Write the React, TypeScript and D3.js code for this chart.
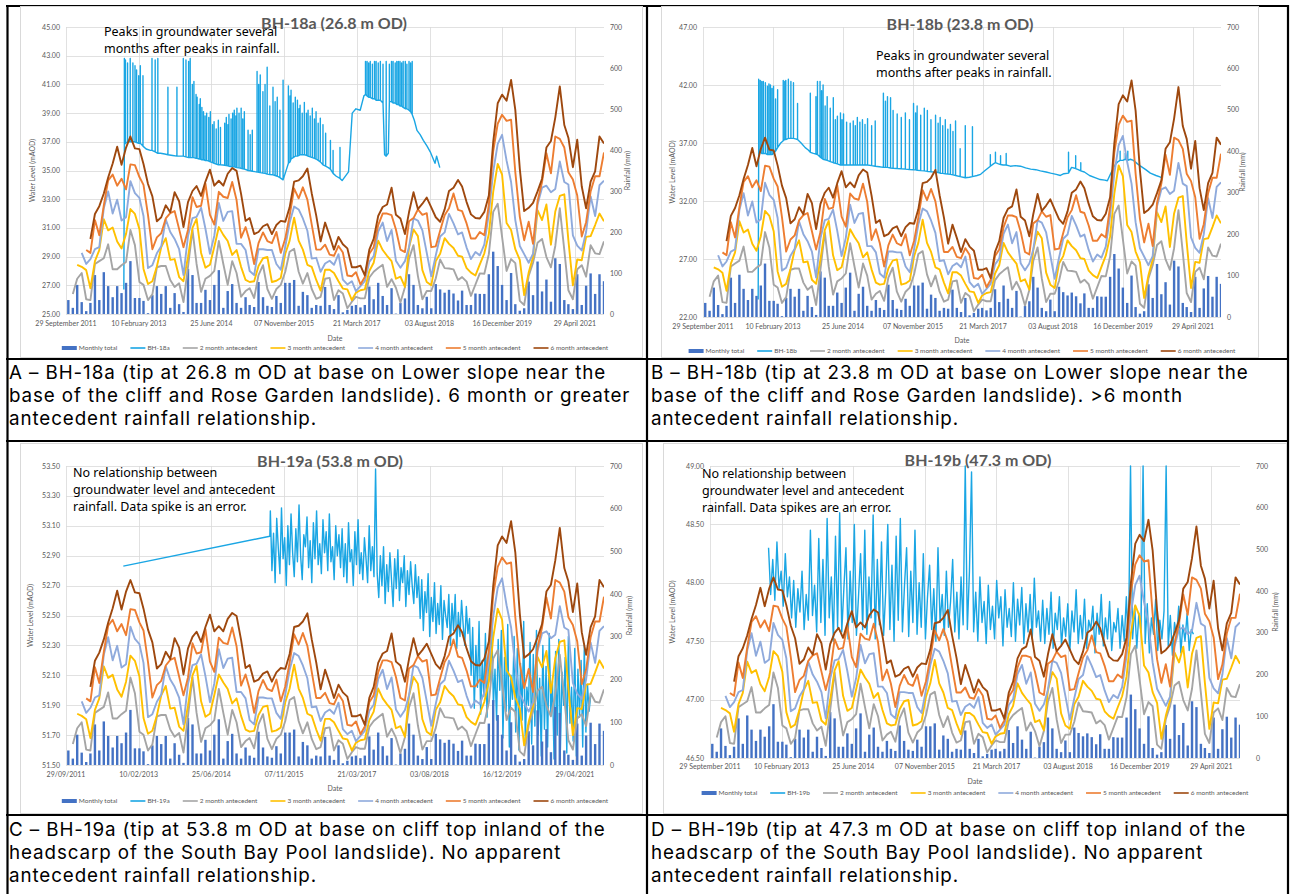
import React, { useEffect, useRef } from 'react';
import * as d3 from 'd3';

const W = 1292;
const H = 894;

// Rainfall, mm per month, first month Oct 2011 (bars sit mid-month)
const rainStart = '2011-10-15';
const monthlyTotal = [
  34, 15, 71, 29, 7, 27, 95, 34, 102, 68,
  41, 68, 51, 76, 129, 39, 39, 32, 2, 46,
  68, 49, 68, 15, 51, 24, 5, 110, 95, 27,
  27, 59, 34, 71, 107, 15, 56, 73, 27, 15,
  41, 22, 17, 78, 41, 20, 17, 44, 27, 76,
  76, 83, 20, 54, 46, 15, 22, 20, 66, 22,
  12, 46, 4, 10, 20, 22, 16, 22, 67, 36,
  76, 44, 22, 63, 1, 27, 38, 97, 71, 22,
  14, 42, 14, 73, 60, 52, 59, 50, 33, 57,
  22, 22, 50, 49, 49, 97, 152, 117, 71, 34,
  100, 24, 8, 14, 79, 46, 128, 55, 84, 30,
  136, 122, 34, 24, 12, 97, 22, 69, 99, 49,
  97, 80,
];
const ante2 = [
  null, 49, 86, 100, 36, 34, 122, 129, 136, 170,
  109, 109, 119, 127, 205, 168, 78, 71, 34, 48,
  114, 117, 117, 83, 66, 75, 29, 115, 205, 122,
  54, 86, 93, 105, 178, 122, 71, 129, 100, 42,
  56, 63, 39, 95, 119, 61, 37, 61, 71, 103,
  152, 159, 103, 74, 100, 61, 37, 42, 86, 88,
  34, 58, 50, 14, 30, 42, 38, 38, 89, 103,
  112, 120, 66, 85, 64, 28, 65, 135, 168, 93,
  36, 56, 56, 87, 133, 112, 111, 109, 83, 90,
  79, 44, 72, 99, 98, 146, 249, 269, 188, 105,
  134, 124, 32, 22, 93, 125, 174, 183, 139, 114,
  166, 258, 156, 58, 36, 109, 119, 91, 168, 148,
  146, 177,
];
const ante3 = [
  null, null, 120, 115, 107, 63, 129, 156, 231, 204,
  211, 177, 160, 195, 256, 244, 207, 110, 73, 80,
  116, 163, 185, 132, 134, 90, 80, 139, 210, 232,
  149, 113, 120, 164, 212, 193, 178, 144, 156, 115,
  83, 78, 80, 117, 136, 139, 78, 81, 88, 147,
  179, 235, 179, 157, 120, 115, 83, 57, 108, 108,
  100, 80, 62, 60, 34, 52, 58, 60, 105, 125,
  179, 156, 142, 129, 86, 91, 66, 162, 206, 190,
  107, 78, 70, 129, 147, 185, 171, 161, 142, 140,
  112, 101, 94, 121, 148, 195, 298, 366, 340, 222,
  205, 158, 132, 46, 101, 139, 253, 229, 267, 169,
  250, 288, 292, 180, 70, 133, 131, 188, 190, 217,
  245, 226,
];
const ante4 = [
  null, null, null, 149, 122, 134, 158, 163, 258, 299,
  245, 279, 228, 236, 324, 295, 283, 239, 112, 119,
  148, 165, 231, 200, 183, 158, 95, 190, 234, 237,
  259, 208, 147, 191, 271, 227, 249, 251, 171, 171,
  156, 105, 95, 158, 158, 156, 156, 122, 108, 164,
  223, 262, 255, 233, 203, 135, 137, 103, 123, 130,
  120, 146, 84, 72, 80, 56, 68, 80, 127, 141,
  201, 223, 178, 205, 130, 113, 129, 163, 233, 228,
  204, 149, 92, 143, 189, 199, 244, 221, 194, 199,
  162, 134, 151, 143, 170, 245, 347, 415, 437, 374,
  322, 229, 166, 146, 125, 147, 267, 308, 313, 297,
  305, 372, 322, 316, 192, 167, 155, 200, 287, 239,
  314, 325,
];
const ante5 = [
  null, null, null, null, 156, 149, 229, 192, 265, 326,
  340, 313, 330, 304, 365, 363, 334, 315, 241, 158,
  187, 197, 233, 246, 251, 207, 163, 205, 285, 261,
  264, 318, 242, 218, 298, 286, 283, 322, 278, 186,
  212, 178, 122, 173, 199, 178, 173, 200, 149, 184,
  240, 306, 282, 309, 279, 218, 157, 157, 169, 145,
  142, 166, 150, 94, 92, 102, 72, 90, 147, 163,
  217, 245, 245, 241, 206, 157, 151, 226, 234, 255,
  242, 246, 163, 165, 203, 241, 258, 294, 254, 251,
  221, 184, 184, 200, 192, 267, 397, 464, 486, 471,
  474, 346, 237, 180, 225, 171, 275, 322, 392, 343,
  433, 427, 406, 346, 328, 289, 189, 224, 299, 336,
  336, 394,
];
const ante6 = [
  null, null, null, null, null, 183, 244, 263, 294, 333,
  367, 408, 364, 406, 433, 404, 402, 366, 317, 287,
  226, 236, 265, 248, 297, 275, 212, 273, 300, 312,
  288, 323, 352, 313, 325, 313, 342, 356, 349, 293,
  227, 234, 195, 200, 214, 219, 195, 217, 227, 225,
  260, 323, 326, 336, 355, 294, 240, 177, 223, 191,
  157, 188, 170, 160, 114, 114, 118, 94, 157, 183,
  239, 261, 267, 308, 242, 233, 195, 248, 297, 256,
  269, 284, 260, 236, 225, 255, 300, 308, 327, 311,
  273, 243, 234, 233, 249, 289, 419, 514, 535, 520,
  571, 498, 354, 251, 259, 271, 299, 330, 406, 422,
  479, 555, 461, 430, 358, 425, 311, 258, 323, 348,
  433, 416,
];

// date axis: Excel major unit of 500 days
const tickDates = ['2011-09-29', '2013-02-10', '2014-06-25', '2015-11-07', '2017-03-21', '2018-08-03', '2019-12-16', '2021-04-29'];
const axisEnd = '2021-11-15';
const rightTicks = [0, 100, 200, 300, 400, 500, 600, 700];

// groundwater levels: [decimal year, mAOD] or [decimal year, mAOD, momentary spike peak]
const bh18a = [
  [2012.83, 26.7], [2012.84, 36.8, 42.8], [2012.86, 36.9, 42.7], [2012.9, 37.0, 42.5], [2012.95, 37.0, 42.8],
  [2013.0, 37.0, 42.5], [2013.04, 37.0, 42.3], [2013.07, 36.95, 42.0], [2013.11, 36.9, 41.6], [2013.14, 36.9, 42.3],
  [2013.19, 36.7, 41.6], [2013.25, 36.5], [2013.33, 36.4], [2013.36, 36.4, 42.8], [2013.42, 36.3, 42.7],
  [2013.47, 36.2, 42.8], [2013.52, 36.2], [2013.6, 36.15], [2013.66, 36.1, 40.8], [2013.75, 36.05],
  [2013.83, 36.0, 40.8], [2013.9, 36.0], [2013.95, 36.0, 42.8], [2014.0, 35.95, 42.7], [2014.05, 35.9, 42.6],
  [2014.08, 35.9, 42.8], [2014.12, 35.9, 41.0], [2014.15, 35.9, 41.2], [2014.19, 35.85, 40.3], [2014.21, 35.85, 40.1],
  [2014.25, 35.8, 39.6], [2014.27, 35.8, 40.0], [2014.3, 35.75, 39.4], [2014.33, 35.75, 39.1], [2014.36, 35.7, 38.8],
  [2014.39, 35.7, 39.0], [2014.43, 35.65, 38.7], [2014.46, 35.6, 39.1], [2014.5, 35.55, 38.2], [2014.53, 35.5, 38.4],
  [2014.57, 35.45, 37.9], [2014.61, 35.4, 38.5], [2014.65, 35.4, 38.0], [2014.7, 35.38], [2014.73, 35.36, 38.3],
  [2014.76, 35.35, 38.7], [2014.79, 35.32, 38.2], [2014.81, 35.3, 38.9], [2014.85, 35.28, 38.6], [2014.88, 35.26, 39.0],
  [2014.91, 35.25, 39.2], [2014.94, 35.22, 38.8], [2014.96, 35.2, 39.35], [2015.0, 35.18, 39.0], [2015.04, 35.15, 39.35],
  [2015.07, 35.12, 38.6], [2015.1, 35.1, 39.1], [2015.14, 35.05], [2015.17, 35.0, 37.8], [2015.21, 34.98, 37.5],
  [2015.25, 34.95, 37.8], [2015.3, 34.92], [2015.34, 34.9, 41.9], [2015.37, 34.88, 41.0], [2015.4, 34.85, 41.65],
  [2015.45, 34.82, 40.5], [2015.49, 34.8, 41.0], [2015.53, 34.75, 42.2], [2015.58, 34.72, 39.5], [2015.64, 34.7, 40.8],
  [2015.68, 34.65, 39.8], [2015.72, 34.6, 40.1], [2015.77, 34.5, 39.2], [2015.83, 34.35, 41.3], [2015.87, 34.8],
  [2015.93, 35.5, 40.9], [2015.96, 35.6, 40.2], [2015.98, 35.8, 40.6], [2016.02, 35.9, 39.7], [2016.06, 36.0, 40.1],
  [2016.1, 36.0, 39.9], [2016.13, 36.05, 39.3], [2016.15, 36.1, 39.55], [2016.19, 36.1, 39.0], [2016.23, 36.1, 39.75],
  [2016.27, 36.05, 39.0], [2016.3, 36.0, 39.2], [2016.34, 35.95, 38.8], [2016.38, 35.9, 39.35], [2016.42, 35.85, 38.6],
  [2016.45, 35.8, 39.1], [2016.49, 35.7, 38.3], [2016.53, 35.6, 38.65], [2016.58, 35.4, 38.2], [2016.63, 35.3, 37.6],
  [2016.68, 35.2], [2016.72, 35.1, 37.1], [2016.77, 34.8, 36.4], [2016.83, 34.6], [2016.9, 34.45, 36.6],
  [2016.94, 34.3], [2017.06, 34.9], [2017.13, 39.0], [2017.2, 39.3], [2017.28, 39.2], [2017.35, 40.2],
  [2017.38, 40.3, 42.6], [2017.41, 40.2, 42.6], [2017.44, 40.1, 42.5], [2017.47, 40.1, 42.6], [2017.51, 40.0, 42.4],
  [2017.55, 40.0, 42.6], [2017.58, 39.9, 42.6], [2017.62, 39.9, 42.5], [2017.66, 39.9, 42.6], [2017.71, 39.7, 42.4],
  [2017.74, 36.1], [2017.77, 36.0, 42.6], [2017.81, 36.2], [2017.83, 39.8, 42.4], [2017.87, 39.8, 42.6],
  [2017.9, 39.7, 42.6], [2017.94, 39.7, 42.5], [2017.97, 39.6, 42.6], [2018.0, 39.6, 42.6], [2018.03, 39.5, 42.6],
  [2018.06, 39.5, 42.5], [2018.09, 39.4, 42.6], [2018.13, 39.3, 42.6], [2018.16, 39.3, 42.4], [2018.2, 39.2, 42.6],
  [2018.23, 39.1, 42.5], [2018.26, 38.9, 42.6], [2018.3, 38.5], [2018.35, 37.8], [2018.41, 37.5], [2018.47, 37.1],
  [2018.54, 36.7], [2018.6, 36.3], [2018.69, 35.5], [2018.72, 36.0], [2018.78, 35.2],
];

const bh18b = [
  [2012.82, 23.5], [2012.83, 36.2, 42.5], [2012.86, 36.2, 42.4], [2012.89, 36.1, 42.3], [2012.92, 36.1, 42.3],
  [2012.96, 36.1, 42.2], [2013.0, 36.0, 41.9], [2013.03, 36.0, 42.1], [2013.06, 36.0, 42.0], [2013.09, 36.0, 41.7],
  [2013.12, 36.1, 41.9], [2013.16, 36.3, 40.8], [2013.2, 36.6, 41.6], [2013.26, 37.0], [2013.31, 37.2, 42.4],
  [2013.34, 37.3, 42.3], [2013.36, 37.3, 42.4], [2013.41, 37.4, 42.5], [2013.46, 37.4, 42.3], [2013.51, 37.4, 42.2],
  [2013.55, 37.35], [2013.59, 37.3, 40.4], [2013.66, 37.0], [2013.74, 36.6], [2013.8, 36.4], [2013.84, 36.2, 41.3],
  [2013.9, 36.1], [2013.95, 36.05, 41.0], [2013.98, 36.0, 42.3], [2014.03, 35.8, 42.3], [2014.06, 35.7, 41.5],
  [2014.09, 35.6, 42.0], [2014.13, 35.55, 40.2], [2014.17, 35.5, 41.0], [2014.23, 35.4, 40.0], [2014.29, 35.3, 40.9],
  [2014.33, 35.25, 39.0], [2014.37, 35.2, 39.3], [2014.43, 35.1, 39.6], [2014.46, 35.1, 39.0], [2014.49, 35.1, 39.5],
  [2014.55, 35.1, 38.8], [2014.62, 35.1, 38.7], [2014.68, 35.1, 38.9], [2014.72, 35.1, 38.5], [2014.76, 35.1, 39.2],
  [2014.81, 35.1, 38.8], [2014.86, 35.1, 39.0], [2014.91, 35.1, 38.6], [2014.96, 35.1, 39.1], [2015.04, 35.05, 38.5],
  [2015.11, 35.0, 38.9], [2015.19, 34.95], [2015.27, 34.9, 41.3], [2015.31, 34.9, 40.6], [2015.35, 34.9, 41.0],
  [2015.41, 34.85, 40.9], [2015.46, 34.82, 39.8], [2015.54, 34.8, 39.5], [2015.62, 34.78, 39.2], [2015.7, 34.75, 39.6],
  [2015.78, 34.72, 39.0], [2015.86, 34.7, 40.4], [2015.9, 34.68, 39.6], [2015.93, 34.65, 40.2], [2016.0, 34.62, 39.4],
  [2016.07, 34.6, 40.0], [2016.13, 34.55, 39.8], [2016.2, 34.52, 39.0], [2016.29, 34.5, 39.4], [2016.34, 34.45, 38.7],
  [2016.38, 34.4, 39.2], [2016.43, 34.38, 38.5], [2016.48, 34.35, 39.0], [2016.53, 34.32, 38.2], [2016.58, 34.3, 38.6],
  [2016.63, 34.25, 38.0], [2016.68, 34.2, 38.9], [2016.77, 34.1, 36.5], [2016.87, 34.0, 38.5], [2016.95, 34.05],
  [2017.01, 34.1, 38.4], [2017.1, 34.2], [2017.17, 34.3], [2017.25, 34.6], [2017.36, 35.0, 36.0], [2017.42, 35.2],
  [2017.46, 35.3, 36.2], [2017.52, 35.2], [2017.56, 35.15, 35.9], [2017.61, 35.1], [2017.67, 35.1, 36.1],
  [2017.75, 35.0], [2017.85, 35.05], [2017.95, 35.0], [2018.05, 34.85], [2018.15, 34.75], [2018.25, 34.7],
  [2018.34, 34.6], [2018.45, 34.5], [2018.54, 34.4], [2018.65, 34.3], [2018.73, 34.2], [2018.8, 34.35],
  [2018.89, 34.4, 36.2], [2018.95, 34.9], [2019.03, 34.8, 35.9], [2019.08, 34.7], [2019.13, 34.6, 35.3],
  [2019.2, 34.5], [2019.3, 34.2], [2019.42, 34.0], [2019.51, 33.85], [2019.6, 33.8], [2019.65, 33.75], [2019.72, 34.4],
  [2019.8, 35.1], [2019.86, 35.4], [2019.9, 35.5, 36.3], [2019.95, 35.5], [2020.0, 35.6, 36.1], [2020.05, 35.5, 36.3],
  [2020.1, 35.6], [2020.16, 35.5], [2020.24, 35.2], [2020.3, 35.0], [2020.4, 34.7], [2020.49, 34.4], [2020.6, 34.2],
  [2020.69, 34.05], [2020.73, 34.0],
];

// BH-19a: logger gap bridged by a straight segment, then readings every 0.03 yr
const bh19aGap = [[2012.82, 52.83], [2015.58, 53.03]];
const bh19aStart = 2015.59;
const bh19aStep = 0.03;
const bh19aLevels = [
  53.2, 52.8, 53.05, 52.72, 53.15, 52.95, 52.78, 53.22, 52.88, 53.02, 52.7, 53.1, 52.84, 53.18, 52.92, 52.76, 53.08,
  52.86, 53.24, 52.9, 52.74, 53.04, 52.96, 53.16, 52.82, 53.0, 52.72, 53.12, 52.88, 53.2, 52.84, 52.98, 52.78, 53.14,
  52.92, 53.06, 52.8, 53.18, 52.86, 52.96, 52.74, 53.1, 52.9, 53.04, 52.82,
  53.08, 52.76, 52.98, 52.72, 53.12, 52.86, 52.94, 52.7, 53.06, 52.84, 53.14, 52.78, 52.92, 52.74, 53.02, 52.88, 52.72,
  53.1, 52.8, 52.96, 52.76, 53.48,
  52.78, 52.62, 52.9, 52.7, 52.96, 52.58, 52.84, 52.66, 52.92, 52.74, 52.56, 52.88, 52.68, 52.94, 52.6, 52.82, 52.72,
  52.9, 52.56, 52.8, 52.64, 52.86, 52.7, 52.58, 52.84, 52.62, 52.76,
  52.48, 52.74, 52.4, 52.66, 52.52, 52.78, 52.36, 52.62, 52.46, 52.72, 52.38, 52.58, 52.44, 52.7, 52.34, 52.6, 52.5,
  52.42, 52.64,
  52.3, 52.58, 52.4, 52.64, 52.28, 52.52, 52.36, 52.6, 52.44, 52.3, 52.56, 52.38, 52.48,
  52.1, 52.42, 51.88, 52.3, 52.02, 52.46, 51.84, 52.2, 51.96, 52.38, 51.82, 52.26, 52.06, 52.44, 51.9, 52.14, 51.8,
  52.34, 52.0,
  52.4, 51.68, 52.22, 51.86, 52.44, 51.62, 52.1, 51.94, 52.36, 51.72, 52.28, 51.6, 52.18, 51.8, 52.46, 51.66, 52.02,
  51.9, 52.32, 51.64, 52.24, 51.76, 52.4, 51.7, 52.08,
  51.56, 52.3, 51.74, 52.16, 51.62, 52.38, 51.84, 52.06, 51.54, 52.26, 51.7, 52.34, 51.6, 52.12, 51.9, 52.22, 51.58,
  52.36, 51.78, 52.02, 51.66, 52.28, 51.56, 52.14, 51.82, 52.2, 51.62, 52.3, 51.72, 52.04, 51.86, 51.96,
];

// BH-19b: readings every 0.04 yr
const bh19bStart = 2012.86;
const bh19bStep = 0.04;
const bh19bLevels = [
  48.3, 47.9, 48.2, 47.85, 48.35, 47.95, 48.1, 47.8, 48.25, 47.88, 48.05,
  47.7, 48.02, 47.62, 47.95, 47.75, 48.1, 47.6, 47.9, 47.68, 48.45, 47.72, 47.98, 47.58, 48.38, 47.66,
  48.2, 47.55, 48.55, 47.7, 48.05, 47.5, 48.4, 47.62, 48.6, 47.58, 47.95, 48.3, 47.52, 48.1, 47.66, 48.5, 47.55, 47.88,
  48.25, 47.6,
  48.45, 47.56, 48.05, 47.7, 48.58, 47.52, 48.2, 47.64, 48.35, 47.55, 47.92, 48.5, 47.6, 48.15, 47.5, 48.4, 47.68, 48.55,
  47.58, 47.98, 48.3, 47.54, 48.1, 47.66, 48.45,
  47.56, 48.0, 47.62, 48.25, 47.52, 47.88, 48.15, 47.6, 47.95, 47.5, 48.3, 47.66, 47.9, 47.55, 48.1, 47.62, 47.84, 48.2,
  47.58, 47.92, 47.52, 48.05, 47.64,
  49.0, 47.6, 48.1, 48.95,
  47.58, 47.92, 47.5, 48.05, 47.66, 47.84, 47.48, 47.98, 47.6, 47.8, 47.52, 48.02, 47.7, 47.88, 47.46, 47.94, 47.62,
  47.78, 47.54, 48.0, 47.5, 47.86, 47.64, 47.96, 47.48, 47.82, 47.58, 47.9, 47.52, 48.04, 47.62, 47.76, 47.5,
  47.85, 47.48, 47.78, 47.56, 47.92, 47.44, 47.74, 47.6, 47.88, 47.46, 47.7, 47.54, 47.82, 47.42, 47.76, 47.58, 47.94,
  47.48, 47.72, 47.52, 47.86, 47.44, 47.68, 47.6, 47.8, 47.4, 47.74, 47.56, 47.9, 47.46, 47.7, 47.52, 47.84, 47.42,
  47.66, 47.58, 47.78, 47.44, 47.72, 47.5, 47.88, 47.46,
  49.0,
  47.52, 47.8, 47.44, 47.74, 47.58,
  49.0,
  47.48, 47.82, 47.4, 47.7, 47.56, 47.86, 47.42, 47.68, 47.52, 47.76,
  49.0,
  47.46, 47.72, 47.38, 47.66, 47.54, 47.8, 47.4, 47.64, 47.5, 47.74, 47.42, 47.6, 47.56,
];

const ticks18a = [25, 27, 29, 31, 33, 35, 37, 39, 41, 43, 45];
const ticks18b = [22, 27, 32, 37, 42, 47];
const ticks19a = [51.5, 51.7, 51.9, 52.1, 52.3, 52.5, 52.7, 52.9, 53.1, 53.3, 53.5];
const ticks19b = [46.5, 47.0, 47.5, 48.0, 48.5, 49.0];

const captionA = ['A – BH-18a (tip at 26.8 m OD at base on Lower slope near the', 'base of the cliff and Rose Garden landslide). 6 month or greater', 'antecedent rainfall relationship.'];
const captionB = ['B – BH-18b (tip at 23.8 m OD at base on Lower slope near the', 'base of the cliff and Rose Garden landslide). >6 month', 'antecedent rainfall relationship.'];
const captionC = ['C – BH-19a (tip at 53.8 m OD at base on cliff top inland of the', 'headscarp of the South Bay Pool landslide). No apparent', 'antecedent rainfall relationship.'];
const captionD = ['D – BH-19b (tip at 47.3 m OD at base on cliff top inland of the', 'headscarp of the South Bay Pool landslide). No apparent', 'antecedent rainfall relationship.'];

const noteRise = ['Peaks in groundwater several', 'months after peaks in rainfall.'];
const noteNone19a = ['No relationship between', 'groundwater level and antecedent', 'rainfall. Data spike is an error.'];
const noteNone19b = ['No relationship between', 'groundwater level and antecedent', 'rainfall. Data spikes are an error.'];

const colors = {
  bar: '#4472c4',
  gw: '#1aa6e4',
  a2: '#a5a5a5',
  a3: '#ffc000',
  a4: '#8faadc',
  a5: '#ed7d31',
  a6: '#9e480e',
  grid: '#d9d9d9',
  text: '#595959',
};
const FONT = 'Lato, "Noto Sans", sans-serif';
const NOTE_FONT = '"Noto Sans", "Open Sans", sans-serif';
const CAPTION_FONT = 'Inter, "Noto Sans", sans-serif';

const parse = d3.timeParse('%Y-%m-%d');
const yearToDate = (t) => {
  const y = Math.floor(t);
  const a = new Date(y, 0, 1).getTime();
  const b = new Date(y + 1, 0, 1).getTime();
  return new Date(a + (t - y) * (b - a));
};
const regular = (start, step, vals) => vals.map((v, i) => [start + i * step, v]);
// a spike record is drawn as level -> peak -> level at the same instant
const expand = (rows) => rows.flatMap((d) => (d.length === 3 ? [[d[0], d[1]], [d[0], d[2]], [d[0], d[1]]] : [d]));

const panels = [
  {
    key: 'a', name: 'BH-18a', title: 'BH-18a (26.8 m OD)', gw: expand(bh18a), yDomain: [25, 45], yTicks: ticks18a, note: noteRise,
    frame: [20, 6, 622, 351], plot: { l: 66, r: 604, t: 27, b: 314 }, dateFmt: '%d %B %Y',
    titleX: 334, titleY: 29, noteX: 104, noteY: 36, tickY: 326, dateY: 341, legendY: 348,
    yTitleX: 35, rLabelX: 610, rTitleX: 630,
  },
  {
    key: 'b', name: 'BH-18b', title: 'BH-18b (23.8 m OD)', gw: expand(bh18b), yDomain: [22, 47], yTicks: ticks18b, note: noteRise,
    frame: [661, 6, 597, 351], plot: { l: 703, r: 1221, t: 27, b: 317 }, dateFmt: '%d %B %Y',
    titleX: 960, titleY: 30, noteX: 876, noteY: 60, tickY: 329, dateY: 343, legendY: 351,
    yTitleX: 675, rLabelX: 1227, rTitleX: 1245,
  },
  {
    key: 'c', name: 'BH-19a', title: 'BH-19a (53.8 m OD)', gw: bh19aGap.concat(regular(bh19aStart, bh19aStep, bh19aLevels)),
    yDomain: [51.5, 53.5], yTicks: ticks19a, note: noteNone19a,
    frame: [20, 443, 622, 370], plot: { l: 66, r: 604, t: 466, b: 765 }, dateFmt: '%d/%m/%Y',
    titleX: 330, titleY: 467, noteX: 73, noteY: 477, tickY: 777, dateY: 791, legendY: 801,
    yTitleX: 33, rLabelX: 610, rTitleX: 632,
  },
  {
    key: 'd', name: 'BH-19b', title: 'BH-19b (47.3 m OD)', gw: regular(bh19bStart, bh19bStep, bh19bLevels),
    yDomain: [46.5, 49], yTicks: ticks19b, note: noteNone19b,
    frame: [663, 443, 623, 370], plot: { l: 710, r: 1240, t: 466, b: 758 }, dateFmt: '%d %B %Y',
    titleX: 978, titleY: 466, noteX: 702, noteY: 478, tickY: 769, dateY: 784, legendY: 793,
    yTitleX: 675, rLabelX: 1256, rTitleX: 1278,
  },
];

const captions = [
  { x: 9, y: 379, lines: captionA },
  { x: 651, y: 379, lines: captionB },
  { x: 9, y: 836, lines: captionC },
  { x: 651, y: 836, lines: captionD },
];

function drawPanel(root, p) {
  const g = root.append('g');
  const [fx, fy, fw, fh] = p.frame;
  g.append('rect').attr('x', fx + 0.5).attr('y', fy + 0.5).attr('width', fw).attr('height', fh)
    .attr('fill', '#fff').attr('stroke', colors.grid);

  const x = d3.scaleTime().domain([parse(tickDates[0]), parse(axisEnd)]).range([p.plot.l, p.plot.r]);
  const yL = d3.scaleLinear().domain(p.yDomain).range([p.plot.b, p.plot.t]);
  const yR = d3.scaleLinear().domain([0, 700]).range([p.plot.b, p.plot.t]);
  const fmtDate = d3.timeFormat(p.dateFmt);

  // gridlines
  g.append('g').selectAll('line').data(p.yTicks).join('line')
    .attr('x1', p.plot.l).attr('x2', p.plot.r)
    .attr('y1', (d) => Math.round(yL(d)) + 0.5).attr('y2', (d) => Math.round(yL(d)) + 0.5)
    .attr('stroke', colors.grid).attr('stroke-width', 0.8);
  g.append('g').selectAll('line').data(tickDates).join('line')
    .attr('x1', (d) => Math.round(x(parse(d))) + 0.5).attr('x2', (d) => Math.round(x(parse(d))) + 0.5)
    .attr('y1', p.plot.t).attr('y2', p.plot.b)
    .attr('stroke', colors.grid).attr('stroke-width', 0.8);

  const small = (sel, size) => sel.attr('font-family', FONT).attr('font-size', size).attr('fill', colors.text);

  // tick labels
  small(g.append('g').selectAll('text').data(p.yTicks).join('text'), 7)
    .attr('x', p.plot.l - 6).attr('y', (d) => yL(d) + 2.5).attr('text-anchor', 'end')
    .text((d) => d3.format('.2f')(d));
  small(g.append('g').selectAll('text').data(rightTicks).join('text'), 7)
    .attr('x', p.rLabelX).attr('y', (d) => yR(d) + 2.5).text((d) => d);
  small(g.append('g').selectAll('text').data(tickDates).join('text'), 7)
    .attr('x', (d) => x(parse(d))).attr('y', p.tickY).attr('text-anchor', 'middle')
    .text((d) => fmtDate(parse(d)));

  // axis titles
  small(g.append('text'), 7).attr('text-anchor', 'middle')
    .attr('transform', `translate(${p.yTitleX},${(p.plot.t + p.plot.b) / 2}) rotate(-90)`).text('Water Level (mAOD)');
  small(g.append('text'), 7).attr('text-anchor', 'middle')
    .attr('transform', `translate(${p.rTitleX},${(p.plot.t + p.plot.b) / 2}) rotate(-90)`).text('Rainfall (mm)');
  small(g.append('text'), 7).attr('text-anchor', 'middle')
    .attr('x', (p.plot.l + p.plot.r) / 2).attr('y', p.dateY).text('Date');

  // series
  const clipId = `clip-${p.key}`;
  g.append('clipPath').attr('id', clipId).append('rect')
    .attr('x', p.plot.l).attr('y', p.plot.t - 2).attr('width', p.plot.r - p.plot.l).attr('height', p.plot.b - p.plot.t + 2);
  const pg = g.append('g').attr('clip-path', `url(#${clipId})`);

  const gwLine = d3.line().x((d) => x(yearToDate(d[0]))).y((d) => yL(d[1]));
  pg.append('path').datum(p.gw).attr('d', gwLine).attr('fill', 'none')
    .attr('stroke', colors.gw).attr('stroke-width', 1.4).attr('stroke-linejoin', 'round');

  const monthDate = (i) => d3.timeMonth.offset(parse(rainStart), i);
  pg.append('g').selectAll('rect').data(monthlyTotal).join('rect')
    .attr('x', (d, i) => x(monthDate(i)) - 1.2).attr('width', 2.4)
    .attr('y', (d) => yR(d)).attr('height', (d) => yR(0) - yR(d))
    .attr('fill', colors.bar);

  const anteLine = d3.line().defined((d) => d != null).x((d, i) => x(monthDate(i))).y((d) => yR(d));
  [[ante2, colors.a2], [ante3, colors.a3], [ante4, colors.a4], [ante5, colors.a5], [ante6, colors.a6]].forEach(([data, c]) => {
    pg.append('path').datum(data).attr('d', anteLine).attr('fill', 'none')
      .attr('stroke', c).attr('stroke-width', 1.9).attr('stroke-linejoin', 'round');
  });

  // title
  g.append('text').attr('x', p.titleX).attr('y', p.titleY).attr('text-anchor', 'middle')
    .attr('font-family', FONT).attr('font-weight', 700).attr('font-size', 16).attr('fill', colors.text)
    .text(p.title);

  // note
  const note = g.append('text').attr('font-family', NOTE_FONT).attr('font-size', 12.5).attr('fill', '#000');
  p.note.forEach((line, i) => {
    note.append('tspan').attr('x', p.noteX).attr('y', p.noteY + i * 17).text(line);
  });

  // legend
  const items = [
    { label: 'Monthly total', color: colors.bar, bar: true },
    { label: p.name, color: colors.gw },
    { label: '2 month antecedent', color: colors.a2 },
    { label: '3 month antecedent', color: colors.a3 },
    { label: '4 month antecedent', color: colors.a4 },
    { label: '5 month antecedent', color: colors.a5 },
    { label: '6 month antecedent', color: colors.a6 },
  ];
  const lg = g.append('g');
  let cx = 0;
  items.forEach((it) => {
    const ig = lg.append('g').attr('transform', `translate(${cx},0)`);
    if (it.bar) {
      ig.append('rect').attr('x', 0).attr('y', -2).attr('width', 15).attr('height', 4).attr('fill', it.color);
    } else {
      ig.append('line').attr('x1', 0).attr('x2', 15).attr('y1', 0).attr('y2', 0)
        .attr('stroke', it.color).attr('stroke-width', 1.6);
    }
    const t = small(ig.append('text'), 6.5).attr('x', 17).attr('y', 2.2).text(it.label);
    const tw = t.node().getComputedTextLength();
    cx += 17 + tw + 13;
  });
  const total = cx - 13;
  lg.attr('transform', `translate(${(p.plot.l + p.plot.r) / 2 - total / 2},${p.legendY})`);
}

export default function App() {
  const ref = useRef(null);

  useEffect(() => {
    const svg = d3.select(ref.current);
    svg.selectAll('*').remove();
    svg.append('rect').attr('width', W).attr('height', H).attr('fill', '#fff');

    // table rules
    const rule = (x1, y1, x2, y2) => svg.append('line').attr('x1', x1).attr('y1', y1).attr('x2', x2).attr('y2', y2)
      .attr('stroke', '#000').attr('stroke-width', 2.2);
    rule(6, 6, 1289, 6);
    rule(7.5, 5, 7.5, H);
    rule(647, 5, 647, H);
    rule(1288, 5, 1288, H);
    rule(6, 359, 1289, 359);
    rule(6, 441, 1289, 441);
    rule(6, 815, 1289, 815);

    panels.forEach((p) => drawPanel(svg, p));

    // captions: one text per line
    captions.forEach((c) => {
      c.lines.forEach((line, i) => {
        svg.append('text').attr('font-family', CAPTION_FONT).attr('font-size', 18.8).attr('letter-spacing', 0.9)
          .attr('fill', '#000').attr('x', c.x).attr('y', c.y + i * 23).text(line);
      });
    });

    return () => {
      svg.selectAll('*').remove();
    };
  }, []);

  return (
    <svg ref={ref} width={W} height={H} style={{ position: 'absolute', left: 0, top: 0, display: 'block' }} />
  );
}
